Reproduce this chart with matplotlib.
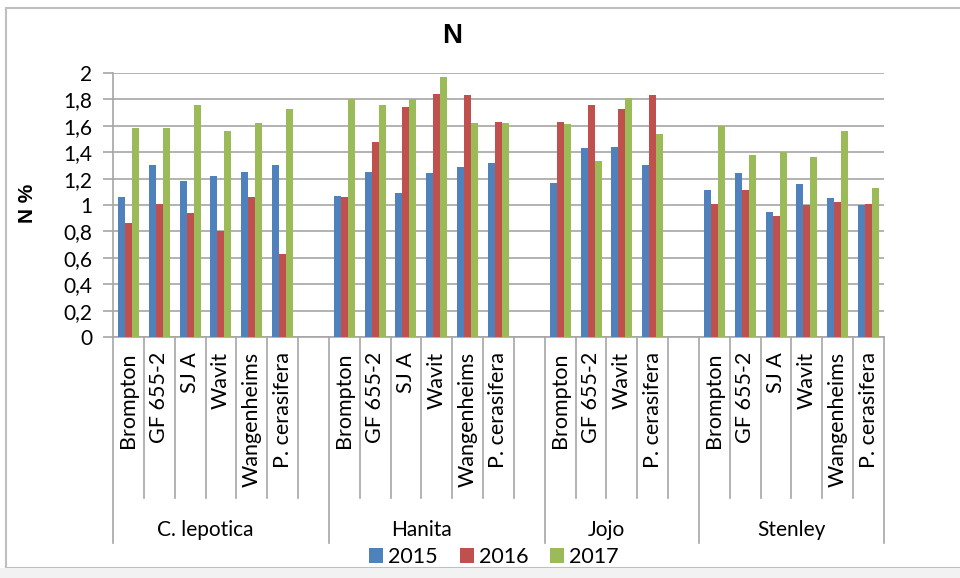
import numpy as np
import matplotlib.pyplot as plt
from matplotlib.lines import Line2D
from matplotlib.patches import Rectangle
import matplotlib.transforms as mtransforms

# rootstocks per cultivar
groups = ['C. lepotica', 'Hanita', 'Jojo', 'Stenley']
items = [
    ['Brompton', 'GF 655-2', 'SJ A', 'Wavit', 'Wangenheims', 'P. cerasifera'],
    ['Brompton', 'GF 655-2', 'SJ A', 'Wavit', 'Wangenheims', 'P. cerasifera'],
    ['Brompton', 'GF 655-2', 'Wavit', 'P. cerasifera'],
    ['Brompton', 'GF 655-2', 'SJ A', 'Wavit', 'Wangenheims', 'P. cerasifera'],
]

# N % by year, same order as items
n_2015 = [1.06, 1.30, 1.18, 1.22, 1.25, 1.30,
          1.07, 1.25, 1.09, 1.24, 1.29, 1.32,
          1.17, 1.43, 1.44, 1.30,
          1.11, 1.24, 0.95, 1.16, 1.05, 1.00]
n_2016 = [0.86, 1.01, 0.94, 0.80, 1.06, 0.63,
          1.06, 1.48, 1.74, 1.84, 1.83, 1.63,
          1.63, 1.76, 1.73, 1.83,
          1.01, 1.11, 0.92, 1.00, 1.02, 1.01]
n_2017 = [1.58, 1.58, 1.76, 1.56, 1.62, 1.73,
          1.80, 1.76, 1.80, 1.97, 1.62, 1.62,
          1.61, 1.33, 1.81, 1.54,
          1.60, 1.38, 1.40, 1.36, 1.56, 1.13]
years = ['2015', '2016', '2017']
colors = ['#4F81BD', '#C0504D', '#9BBB59']
ytick_labels = ['0', '0,2', '0,4', '0,6', '0,8', '1', '1,2', '1,4', '1,6', '1,8', '2']

# slot positions: one empty slot after each group except the last
pos = []
labels = []
bounds = [-0.5]
k = 0
for gi, its in enumerate(items):
    for name in its:
        pos.append(k)
        labels.append(name)
        k += 1
    if gi < len(items) - 1:
        k += 1
    bounds.append(k - 0.5)
nslots = k
pos = np.array(pos)

fig = plt.figure(figsize=(9.6, 5.78), dpi=100)
ax = fig.add_axes([113/960, 1 - 337/578, 771/960, 264/578])

w = 0.227
for i, (vals, c, yr) in enumerate(zip([n_2015, n_2016, n_2017], colors, years)):
    ax.bar(pos + (i - 1) * w, vals, width=w, color=c, label=yr, zorder=3)

ax.set_xlim(-0.5, nslots - 0.5)
ax.set_ylim(0, 2)
ax.set_yticks(np.linspace(0, 2, 11))
ax.set_yticklabels(ytick_labels, family='Lato', fontsize=15)
ax.yaxis.grid(True, color='#A6A6A6', linewidth=1.2, zorder=0)
ax.tick_params(axis='y', length=7, width=1.2, color='#A6A6A6', pad=8)
ax.set_xticks([])
for s in ['top', 'right']:
    ax.spines[s].set_visible(False)
for s in ['left', 'bottom']:
    ax.spines[s].set_color('#A6A6A6')
    ax.spines[s].set_linewidth(1.2)

# category axis: separators and labels below the plot
trans = mtransforms.blended_transform_factory(ax.transData, fig.transFigure)
y0 = 1 - 337/578
y_item = 1 - 498/578
y_group = 1 - 543/578
for b in np.arange(-0.5, nslots, 1.0):
    ytop = y_group if b in bounds else y_item
    ax.add_line(Line2D([b, b], [y0, ytop], transform=trans, color='#A6A6A6',
                       linewidth=1.2, clip_on=False))
for x, name in zip(pos, labels):
    ax.text(x, 1 - 352/578, name, transform=trans, rotation=90, ha='center', va='top',
            family='Lato', fontsize=15.5)
for gi, g in enumerate(groups):
    xc = (bounds[gi] + bounds[gi + 1]) / 2
    if gi < len(groups) - 1:
        xc -= 0.5
    ax.text(xc, 1 - 530/578, g, transform=trans, ha='center', va='center',
            family='Lato', fontsize=15)

ax.set_ylabel('N %', family='Liberation Sans', fontweight='bold', fontsize=15)
ax.yaxis.set_label_coords(37/960, 1 - 203/578, transform=fig.transFigure)
fig.text(452/960, 1 - 36/578, 'N', ha='center', va='center', family='Liberation Sans',
         fontweight='bold', fontsize=20)

fig.legend(loc='center', bbox_to_anchor=(494/960, 1 - 557/578), ncol=3, frameon=False,
           prop={'family': 'Lato', 'size': 15.5}, handlelength=0.65, handleheight=0.65,
           handletextpad=0.25, columnspacing=1.0)

# chart frame and the grey strip under it
fig.patches.append(Rectangle((6/960, 1 - 568/578), 1.0, (568 - 8)/578, transform=fig.transFigure,
                             fill=False, edgecolor='#BFBFBF', linewidth=1.5))
fig.patches.append(Rectangle((0, 0), 1, 10/578, transform=fig.transFigure,
                             facecolor='#F2F2F2', edgecolor='none'))

fig.savefig('out.png', dpi=100)
